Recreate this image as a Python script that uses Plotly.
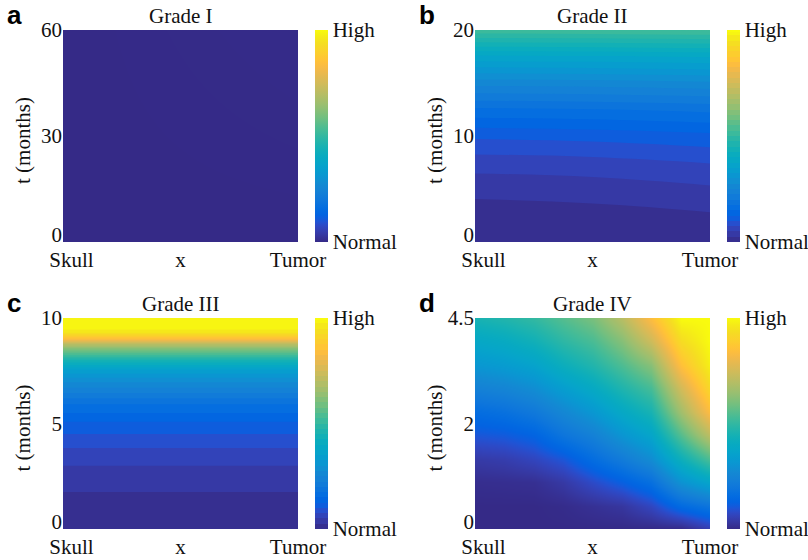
import plotly.graph_objects as go

# ---------------- data ----------------
x_ticktext = ["Skull", "x", "Tumor"]
cbar_ticktext = ["Normal", "High"]
titles = ["Grade I", "Grade II", "Grade III", "Grade IV"]
letters = ["a", "b", "c", "d"]

# Grade I (flat, normal everywhere)
x_a = [0, 1]
t_a = [0, 60]
z_a = [[0.0, 0.0],
       [0.0, 0.003]]
ytick_a = [0, 30, 60]
ytext_a = ["0", "30", "60"]

# Grade II
x_b = [0, 0.5, 1]
t_b = [0, 2.5, 5, 7.5, 10, 12.5, 15, 17.5, 20]
z_b = [[0.000, 0.001, 0.006],
       [0.012, 0.015, 0.022],
       [0.033, 0.037, 0.046],
       [0.062, 0.066, 0.076],
       [0.105, 0.109, 0.118],
       [0.170, 0.174, 0.182],
       [0.260, 0.263, 0.270],
       [0.370, 0.372, 0.378],
       [0.520, 0.522, 0.526]]
ytick_b = [0, 10, 20]
ytext_b = ["0", "10", "20"]

# Grade III
x_c = [0, 1]
t_c = [0, 1, 2, 3, 4, 5, 6, 7, 7.5, 8, 8.5, 8.8, 9.0, 9.3, 9.6, 10]
zc_col = [0.0, 0.01, 0.03, 0.05, 0.08, 0.12, 0.18, 0.28, 0.34, 0.45,
          0.60, 0.72, 0.84, 0.95, 1.0, 1.0]
z_c = [[v, v] for v in zc_col]
ytick_c = [0, 5, 10]
ytext_c = ["0", "5", "10"]

# Grade IV  (rows: t, columns: x)
x_d = [0, 0.125, 0.25, 0.375, 0.5, 0.625, 0.75, 0.875, 1]
t_d = [0, 0.5, 1, 1.5, 2, 2.5, 3, 3.5, 4, 4.5]
z_d = [
    [0.000, 0.000, 0.000, 0.000, 0.000, 0.000, 0.000, 0.000, 0.05],
    [0.000, 0.000, 0.000, 0.005, 0.018, 0.030, 0.070, 0.150, 0.19],
    [0.010, 0.012, 0.015, 0.037, 0.080, 0.120, 0.170, 0.300, 0.37],
    [0.040, 0.048, 0.068, 0.100, 0.160, 0.216, 0.280, 0.425, 0.54],
    [0.100, 0.108, 0.130, 0.190, 0.237, 0.308, 0.370, 0.550, 0.71],
    [0.158, 0.174, 0.205, 0.260, 0.316, 0.387, 0.450, 0.660, 0.84],
    [0.237, 0.253, 0.284, 0.340, 0.395, 0.465, 0.530, 0.750, 0.92],
    [0.314, 0.332, 0.360, 0.420, 0.470, 0.540, 0.620, 0.850, 0.98],
    [0.382, 0.400, 0.435, 0.490, 0.535, 0.617, 0.740, 0.930, 1.00],
    [0.450, 0.470, 0.500, 0.550, 0.600, 0.700, 0.840, 1.000, 1.00],
]
ytick_d = [0, 2.25, 4.5]
ytext_d = ["0", "2", "4.5"]

# ---------------- style ----------------
parula = [
    [0.2081, 0.1663, 0.5292], [0.2116, 0.1898, 0.5777], [0.2123, 0.2138, 0.6270],
    [0.2081, 0.2386, 0.6771], [0.1959, 0.2645, 0.7279], [0.1707, 0.2919, 0.7792],
    [0.1253, 0.3242, 0.8303], [0.0591, 0.3598, 0.8683], [0.0117, 0.3875, 0.8820],
    [0.0060, 0.4086, 0.8828], [0.0165, 0.4266, 0.8786], [0.0329, 0.4430, 0.8720],
    [0.0498, 0.4586, 0.8641], [0.0629, 0.4737, 0.8554], [0.0723, 0.4887, 0.8467],
    [0.0779, 0.5040, 0.8384], [0.0793, 0.5200, 0.8312], [0.0749, 0.5375, 0.8263],
    [0.0641, 0.5570, 0.8240], [0.0488, 0.5772, 0.8228], [0.0343, 0.5966, 0.8199],
    [0.0265, 0.6137, 0.8135], [0.0239, 0.6287, 0.8038], [0.0231, 0.6418, 0.7913],
    [0.0228, 0.6535, 0.7768], [0.0267, 0.6642, 0.7607], [0.0384, 0.6743, 0.7436],
    [0.0590, 0.6838, 0.7254], [0.0843, 0.6928, 0.7062], [0.1133, 0.7015, 0.6859],
    [0.1453, 0.7098, 0.6646], [0.1801, 0.7177, 0.6424], [0.2178, 0.7250, 0.6193],
    [0.2586, 0.7317, 0.5954], [0.3022, 0.7376, 0.5712], [0.3482, 0.7424, 0.5473],
    [0.3953, 0.7459, 0.5244], [0.4420, 0.7481, 0.5033], [0.4871, 0.7491, 0.4840],
    [0.5300, 0.7491, 0.4661], [0.5709, 0.7485, 0.4494], [0.6099, 0.7473, 0.4337],
    [0.6473, 0.7456, 0.4188], [0.6834, 0.7435, 0.4044], [0.7184, 0.7411, 0.3905],
    [0.7525, 0.7384, 0.3768], [0.7858, 0.7356, 0.3633], [0.8185, 0.7327, 0.3498],
    [0.8507, 0.7299, 0.3360], [0.8824, 0.7274, 0.3217], [0.9139, 0.7258, 0.3063],
    [0.9450, 0.7261, 0.2886], [0.9739, 0.7314, 0.2666], [0.9938, 0.7455, 0.2403],
    [0.9990, 0.7653, 0.2164], [0.9955, 0.7861, 0.1967], [0.9880, 0.8066, 0.1794],
    [0.9789, 0.8271, 0.1633], [0.9697, 0.8481, 0.1475], [0.9626, 0.8705, 0.1309],
    [0.9589, 0.8949, 0.1132], [0.9598, 0.9218, 0.0948], [0.9661, 0.9514, 0.0755],
    [0.9763, 0.9831, 0.0538],
]
n = len(parula)
colorscale = [[i / (n - 1), "rgb(%d,%d,%d)" % tuple(round(c * 255) for c in rgb)]
              for i, rgb in enumerate(parula)]

FONT = "Liberation Serif, Times New Roman, serif"
FS = 21
TXT = "#111111"
W, H = 808, 560

# pixel layout of the four panels: (left, right, top, bottom)
panels = [(63, 298, 30, 242), (475, 710, 30, 242),
          (63, 298, 318, 529), (475, 710, 318, 529)]
cbar_left = [315, 727, 315, 727]
CB_W = 13
ZERO_LIFT_PX = 7   # bottom tick label sits slightly above the axis floor
use_contour = [False, True, True, False]

data = [(x_a, t_a, z_a, ytick_a, ytext_a),
        (x_b, t_b, z_b, ytick_b, ytext_b),
        (x_c, t_c, z_c, ytick_c, ytext_c),
        (x_d, t_d, z_d, ytick_d, ytext_d)]

fig = go.Figure()
layout = dict(width=W, height=H, margin=dict(l=0, r=0, t=0, b=0, autoexpand=False),
              paper_bgcolor="white", plot_bgcolor="white",
              font=dict(family=FONT, size=FS, color=TXT), showlegend=False)
annotations = []

for i, ((xv, tv, zv, ytv, ytt), (L, R, T, B)) in enumerate(zip(data, panels)):
    k = "" if i == 0 else str(i + 1)
    cb = dict(thickness=CB_W, thicknessmode="pixels",
              len=(B - T) / H, lenmode="fraction",
              x=cbar_left[i] / W, xanchor="left", xpad=0,
              y=1 - (T + B) / 2 / H, yanchor="middle", ypad=0,
              outlinewidth=0, tickvals=[0, 1], ticktext=cbar_ticktext,
              ticks="inside", ticklen=CB_W, tickwidth=1, tickcolor="#555555",
              tickfont=dict(family=FONT, size=FS, color=TXT))
    if not use_contour[i]:
        fig.add_trace(go.Heatmap(x=xv, y=tv, z=zv, zmin=0, zmax=1, zsmooth="best",
                                 colorscale=colorscale, colorbar=cb,
                                 xaxis="x" + k, yaxis="y" + k, hoverinfo="skip"))
    else:
        fig.add_trace(go.Contour(x=xv, y=tv, z=zv, zmin=0, zmax=1,
                                 autocontour=False,
                                 contours=dict(coloring="fill", start=0, end=1, size=1 / 40,
                                               showlines=False),
                                 line=dict(width=0, smoothing=1.3),
                                 colorscale=colorscale, colorbar=cb,
                                 xaxis="x" + k, yaxis="y" + k, hoverinfo="skip"))
    xmax = xv[-1]
    trange = tv[-1] - tv[0]
    lift = ZERO_LIFT_PX / (B - T) * trange
    ypos = [v + lift if v == tv[0] else v for v in ytv]
    layout["xaxis" + k] = dict(domain=[L / W, R / W], anchor="y" + k,
                               range=[0, xmax], showgrid=False, zeroline=False,
                               showline=False, ticks="", automargin=False,
                               tickvals=[0.036 * xmax, 0.5 * xmax, xmax],
                               ticktext=x_ticktext, ticklabelstandoff=3,
                               tickfont=dict(family=FONT, size=FS, color=TXT))
    layout["yaxis" + k] = dict(domain=[1 - B / H, 1 - T / H], anchor="x" + k,
                               range=[tv[0], tv[-1]], showgrid=False, zeroline=False,
                               showline=False, ticks="", tickvals=ypos, ticktext=ytt,
                               automargin=False,
                               tickfont=dict(family=FONT, size=FS, color=TXT))
    # panel title
    annotations.append(dict(text=titles[i], x=(L + R) / 2 / W, y=1 - (T - 14) / H,
                            xref="paper", yref="paper", xanchor="center", yanchor="middle",
                            showarrow=False, font=dict(family=FONT, size=FS, color=TXT)))
    # y-axis label
    annotations.append(dict(text="t (months)", x=(L - 40) / W, y=1 - ((T + B) / 2 + 5) / H,
                            xref="paper", yref="paper", xanchor="center", yanchor="middle",
                            textangle=-90, showarrow=False,
                            font=dict(family=FONT, size=FS, color=TXT)))
    # panel letter
    annotations.append(dict(text="<b>%s</b>" % letters[i], x=(L - 58) / W, y=1 - (T - 15) / H,
                            xref="paper", yref="paper", xanchor="left", yanchor="middle",
                            showarrow=False,
                            font=dict(family="Liberation Sans, Arial, sans-serif",
                                      size=26, color="#000000")))

layout["annotations"] = annotations
fig.update_layout(**layout)
fig.write_html("out.html")
